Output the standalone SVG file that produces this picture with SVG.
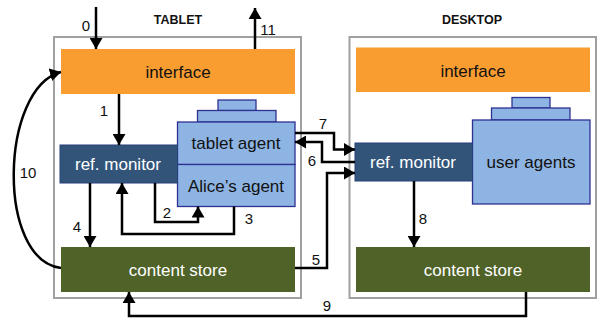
<svg xmlns="http://www.w3.org/2000/svg" width="597" height="320" viewBox="0 0 597 320">
<style>
.frame{fill:#fff;stroke:#a0a0a0;stroke-width:2}
.iface{fill:#f99d31}
.rm{fill:#325479;stroke:#24407a;stroke-width:1}
.ag{fill:#8eb4e3;stroke:#2e3192;stroke-width:1.3}
.cs{fill:#4f6228}
.t{font-family:"Liberation Sans",Arial,sans-serif;font-size:17px;text-anchor:middle}
.w{fill:#fff}
.k{fill:#111}
.h{font-family:"Liberation Sans",Arial,sans-serif;font-size:12.5px;font-weight:bold;text-anchor:middle;fill:#111}
.n{font-family:"Liberation Sans",Arial,sans-serif;font-size:15px;text-anchor:middle;fill:#111}
.c{fill:none;stroke:#000;stroke-width:2.5}
</style>
<defs>
<marker id="ah" markerUnits="userSpaceOnUse" markerWidth="12" markerHeight="13" viewBox="0 0 12 13" refX="11" refY="6.5" orient="auto">
<path d="M0,0 L11,6.5 L0,13 Z" fill="#000"/>
</marker>
</defs>
<g id="tablet">
<rect class="frame" x="54" y="37" width="247" height="261"/>
<text class="h" x="178" y="24">TABLET</text>
</g>
<g id="desktop">
<rect class="frame" x="349.5" y="37" width="246.5" height="261"/>
<text class="h" x="472" y="24">DESKTOP</text>
</g>
<g id="tablet-interface">
<rect class="iface" x="61" y="49" width="234" height="45"/>
<text class="t k" x="178" y="78">interface</text>
</g>
<g id="tablet-agents">
<rect class="ag" x="218" y="100" width="38" height="10.5"/>
<rect class="ag" x="197.5" y="110.5" width="78.5" height="11.5"/>
<rect class="ag" x="177.5" y="122" width="117.5" height="42.5"/>
<rect class="ag" x="177.5" y="164.5" width="117.5" height="42"/>
<text class="t k" x="236" y="149">tablet agent</text>
<text class="t k" x="236" y="192">Alice’s agent</text>
</g>
<g id="tablet-ref-monitor">
<rect class="rm" x="60" y="145" width="117.5" height="38"/>
<text class="t w" x="118" y="170">ref. monitor</text>
</g>
<g id="tablet-content-store">
<rect class="cs" x="61" y="247" width="234" height="45"/>
<text class="t w" x="178" y="276">content store</text>
</g>
<g id="desktop-interface">
<rect class="iface" x="356" y="47.5" width="234" height="44.5"/>
<text class="t k" x="473" y="77">interface</text>
</g>
<g id="desktop-user-agents">
<rect class="ag" x="512" y="97.5" width="38" height="10.5"/>
<rect class="ag" x="491.5" y="108" width="78.5" height="12"/>
<rect class="ag" x="472.5" y="120" width="117.5" height="84"/>
<text class="t k" x="531" y="168">user agents</text>
</g>
<g id="desktop-ref-monitor">
<rect class="rm" x="355" y="143" width="117.5" height="38"/>
<text class="t w" x="413" y="168">ref. monitor</text>
</g>
<g id="desktop-content-store">
<rect class="cs" x="356" y="247" width="234" height="45"/>
<text class="t w" x="473" y="276">content store</text>
</g>
<g id="connectors">
<path class="c" d="M96,7 V49" marker-end="url(#ah)"/>
<path class="c" d="M255,49 V8" marker-end="url(#ah)"/>
<path class="c" d="M119,94 V145" marker-end="url(#ah)"/>
<path class="c" d="M61,268 C-4,260 0,88 61,72" marker-end="url(#ah)"/>
<path class="c" d="M90,183 V247" marker-end="url(#ah)"/>
<path class="c" d="M155,183 V222 H198 V206.5" marker-end="url(#ah)"/>
<path class="c" d="M234,206.5 V234 H122 V183" marker-end="url(#ah)"/>
<path class="c" d="M295,268 H327 V173 H355" marker-end="url(#ah)"/>
<path class="c" d="M355,162 H322 V142 H295" marker-end="url(#ah)"/>
<path class="c" d="M295,133 H334 V149.5 H355" marker-end="url(#ah)"/>
<path class="c" d="M414,181 V247" marker-end="url(#ah)"/>
<path class="c" d="M526,292 V316 H129 V292" marker-end="url(#ah)"/>
<text class="n" x="86" y="31">0</text>
<text class="n" x="268" y="35">11</text>
<text class="n" x="104" y="116">1</text>
<text class="n" x="28" y="178">10</text>
<text class="n" x="77" y="232">4</text>
<text class="n" x="167" y="218">2</text>
<text class="n" x="249" y="224">3</text>
<text class="n" x="316" y="265">5</text>
<text class="n" x="312" y="166">6</text>
<text class="n" x="323" y="129">7</text>
<text class="n" x="423" y="224">8</text>
<text class="n" x="327" y="311">9</text>
</g>
</svg>
